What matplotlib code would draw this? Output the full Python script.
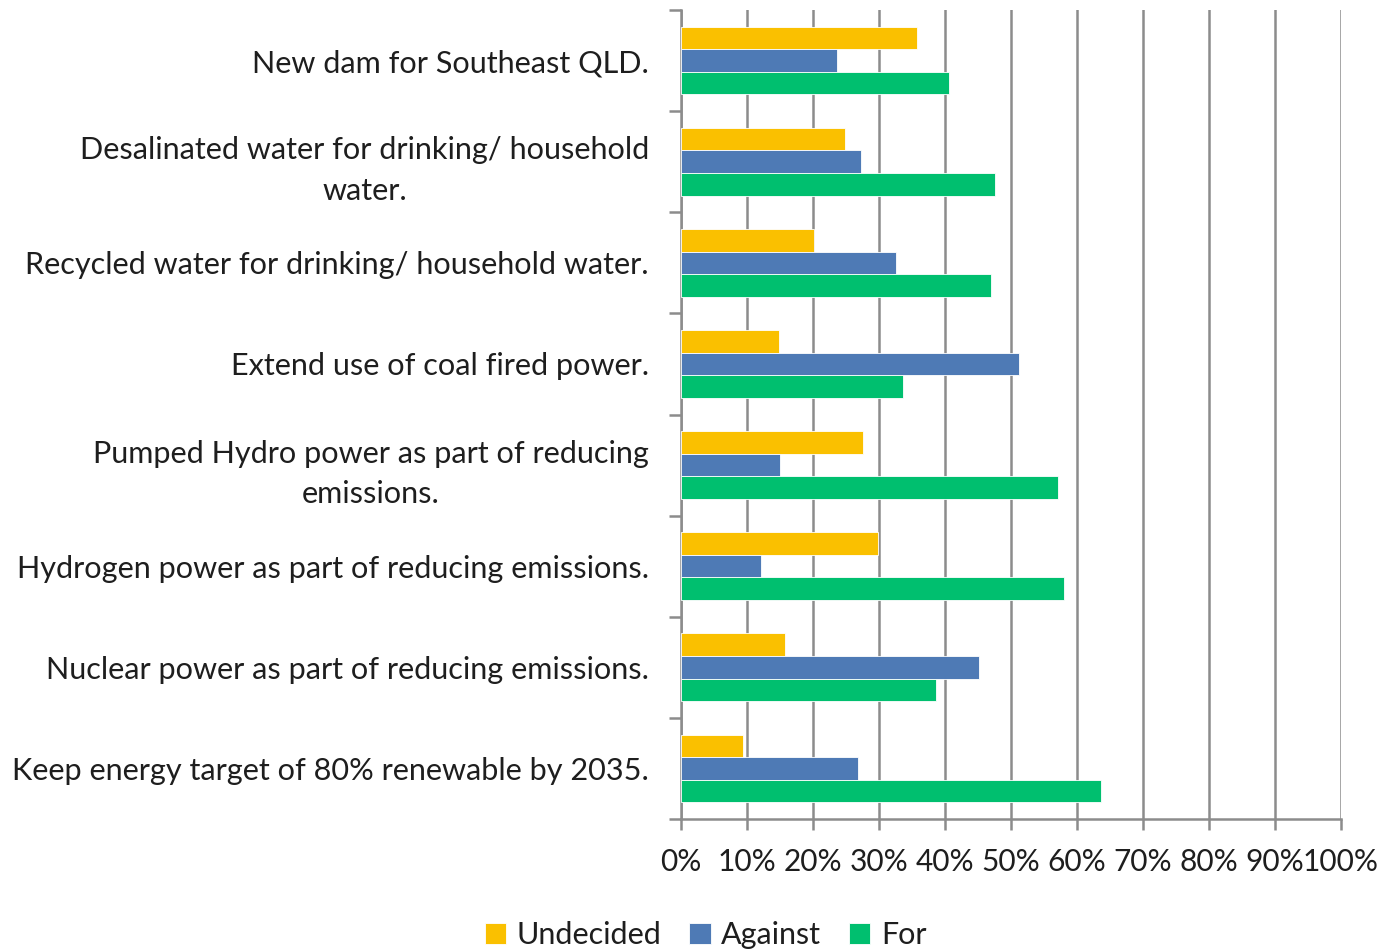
import matplotlib.pyplot as plt
import numpy as np

# survey responses, top to bottom as shown in the chart
questions = [
    "New dam for Southeast QLD.",
    "Desalinated water for drinking/ household\nwater.",
    "Recycled water for drinking/ household water.",
    "Extend use of coal fired power.",
    "Pumped Hydro power as part of reducing\nemissions.",
    "Hydrogen power as part of reducing emissions.",
    "Nuclear power as part of reducing emissions.",
    "Keep energy target of 80% renewable by 2035.",
]
undecided = [35.7, 24.9, 20.2, 14.8, 27.6, 29.8, 15.7, 9.4]
against = [23.6, 27.3, 32.5, 51.2, 15.0, 12.1, 45.2, 26.8]
for_ = [40.6, 47.5, 47.0, 33.7, 57.1, 58.1, 38.6, 63.7]
xticks = list(range(0, 101, 10))

plt.rcParams["font.family"] = ["Lato", "DejaVu Sans"]
text_col = "#1e1e1e"
grid_col = "#8c8c8c"

fig = plt.figure(figsize=(13.97, 9.52), dpi=100)
ax = fig.add_axes([0.4875, 0.1397, 0.4724, 0.8498])

y = np.arange(len(questions))
h = 0.223
ax.barh(y - h, undecided, height=h, color="#FAC000", edgecolor="white", linewidth=0.6, label="Undecided", zorder=3)
ax.barh(y, against, height=h, color="#4E7AB5", edgecolor="white", linewidth=0.6, label="Against", zorder=3)
ax.barh(y + h, for_, height=h, color="#00BF6F", edgecolor="white", linewidth=0.6, label="For", zorder=3)

ax.set_xlim(0, 100)
ax.set_ylim(len(questions) - 0.5, -0.5)
ax.set_xticks(xticks)
ax.set_xticklabels([f"{t}%" for t in xticks], fontsize=21.5, color=text_col)
ax.xaxis.grid(True, color=grid_col, linewidth=1.8, zorder=0)
ax.tick_params(axis="x", length=8, width=1.8, color=grid_col, pad=13)

ax.set_yticks(y)
ax.set_yticklabels(questions, fontsize=22.1, color=text_col, multialignment="center",
                   linespacing=1.55)
ax.set_yticks(np.arange(-0.5, len(questions)), minor=True)
ax.tick_params(axis="y", which="major", length=0, pad=23)
ax.tick_params(axis="y", which="minor", length=9, width=1.8, color=grid_col)

for s in ["top", "right"]:
    ax.spines[s].set_visible(False)
for s in ["left", "bottom"]:
    ax.spines[s].set_color(grid_col)
    ax.spines[s].set_linewidth(1.8)

fig.legend(loc="lower center", bbox_to_anchor=(0.505, -0.026), ncol=3, frameon=False,
           fontsize=22, handlelength=0.7, handleheight=0.7, handletextpad=0.35,
           columnspacing=0.9, labelcolor=text_col)

plt.savefig("out.png", dpi=100)
